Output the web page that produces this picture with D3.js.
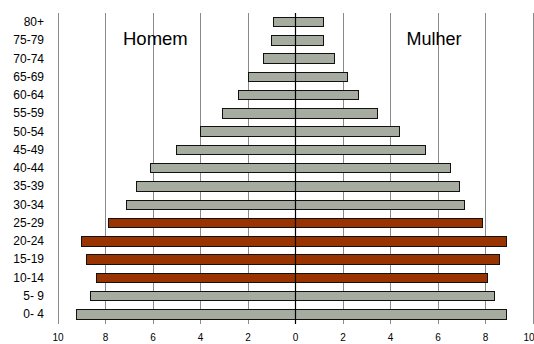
<!DOCTYPE html>
<html>
<head>
<meta charset="utf-8">
<script src="https://cdn.jsdelivr.net/npm/d3@7"></script>
<style>
  html, body { margin: 0; padding: 0; background: #fff; }
  svg { display: block; font-family: "Liberation Sans", Arial, sans-serif; }
</style>
</head>
<body>
<svg id="chart" width="534" height="344"></svg>
<script>
// Age groups, top to bottom
const ageGroups = ["80+", "75-79", "70-74", "65-69", "60-64", "55-59", "50-54", "45-49",
  "40-44", "35-39", "30-34", "25-29", "20-24", "15-19", "10-14", "5- 9", "0- 4"];

// Share of population (%) per age group
const homem  = [0.9, 0.97, 1.32, 1.95, 2.36, 3.07, 3.98, 4.97, 6.1, 6.67, 7.08, 7.87, 8.98, 8.77, 8.36, 8.62, 9.2];
const mulher = [1.22, 1.22, 1.66, 2.2, 2.68, 3.48, 4.4, 5.5, 6.56, 6.92, 7.13, 7.9, 8.9, 8.62, 8.12, 8.4, 8.9];

// Age groups drawn in the accent colour
const highlighted = ["25-29", "20-24", "15-19", "10-14"];

// Axis ticks (absolute values shown on both sides)
const tickValues = [-10, -8, -6, -4, -2, 0, 2, 4, 6, 8, 10];

const sideLabels = ["Homem", "Mulher"];

const svg = d3.select("#chart");

const x = d3.scaleLinear().domain([-10, 10]).range([57.5, 532.5]);
const y = d3.scaleBand().domain(ageGroups).range([13, 323.5]).paddingInner(0.48).paddingOuter(0.24);

const plotTop = 13, plotBottom = 324;

// Vertical gridlines
svg.append("g")
  .selectAll("line")
  .data(tickValues.filter(d => d !== 0))
  .join("line")
  .attr("x1", d => Math.round(x(d)) + 0.5)
  .attr("x2", d => Math.round(x(d)) + 0.5)
  .attr("y1", plotTop)
  .attr("y2", plotBottom)
  .attr("stroke", "#8a8a8a")
  .attr("stroke-width", 1);

// Bars
const rows = ageGroups.map((g, i) => ({ g, h: homem[i], m: mulher[i] }));
const fillFor = d => highlighted.includes(d.g) ? "#993300" : "#a6ac9f";

const bars = svg.append("g").attr("shape-rendering", "crispEdges");
bars.selectAll("rect.h")
  .data(rows)
  .join("rect")
  .attr("class", "h")
  .attr("x", d => x(-d.h))
  .attr("width", d => x(0) - x(-d.h))
  .attr("y", d => y(d.g))
  .attr("height", y.bandwidth())
  .attr("fill", fillFor)
  .attr("stroke", "#111")
  .attr("stroke-width", 1);

bars.selectAll("rect.m")
  .data(rows)
  .join("rect")
  .attr("class", "m")
  .attr("x", x(0))
  .attr("width", d => x(d.m) - x(0))
  .attr("y", d => y(d.g))
  .attr("height", y.bandwidth())
  .attr("fill", fillFor)
  .attr("stroke", "#111")
  .attr("stroke-width", 1);

// Centre axis line
svg.append("line")
  .attr("x1", Math.round(x(0)) + 0.5)
  .attr("x2", Math.round(x(0)) + 0.5)
  .attr("y1", plotTop)
  .attr("y2", plotBottom)
  .attr("stroke", "#000")
  .attr("stroke-width", 1.2);

// Bottom value axis (labels only, no domain line)
const xAxis = d3.axisBottom(x)
  .tickValues(tickValues)
  .tickFormat(d => Math.abs(d))
  .tickSize(0)
  .tickPadding(0);
const gx = svg.append("g").attr("transform", `translate(0, 334)`).call(xAxis);
gx.select(".domain").remove();
gx.selectAll("text")
  .attr("font-size", 10)
  .attr("font-family", "Liberation Sans, Arial, sans-serif")
  .attr("fill", "#000")
  .attr("dy", "0.71em");
// keep the rightmost label inside the frame
gx.selectAll(".tick")
  .filter(d => d === tickValues[tickValues.length - 1])
  .select("text")
  .attr("text-anchor", "end")
  .attr("x", 534 - x(tickValues[tickValues.length - 1]));

// Category labels
const yAxis = d3.axisLeft(y).tickSize(0).tickPadding(0);
const gy = svg.append("g").attr("transform", "translate(44, 0)").call(yAxis);
gy.select(".domain").remove();
gy.selectAll("text")
  .attr("font-size", 12)
  .attr("font-family", "Liberation Sans, Arial, sans-serif")
  .attr("fill", "#000");

// Side titles
svg.append("text")
  .attr("x", 123).attr("y", 45)
  .attr("font-size", 18.5)
  .text(sideLabels[0]);
svg.append("text")
  .attr("x", 406.5).attr("y", 45)
  .attr("font-size", 18)
  .text(sideLabels[1]);
</script>
</body>
</html>
